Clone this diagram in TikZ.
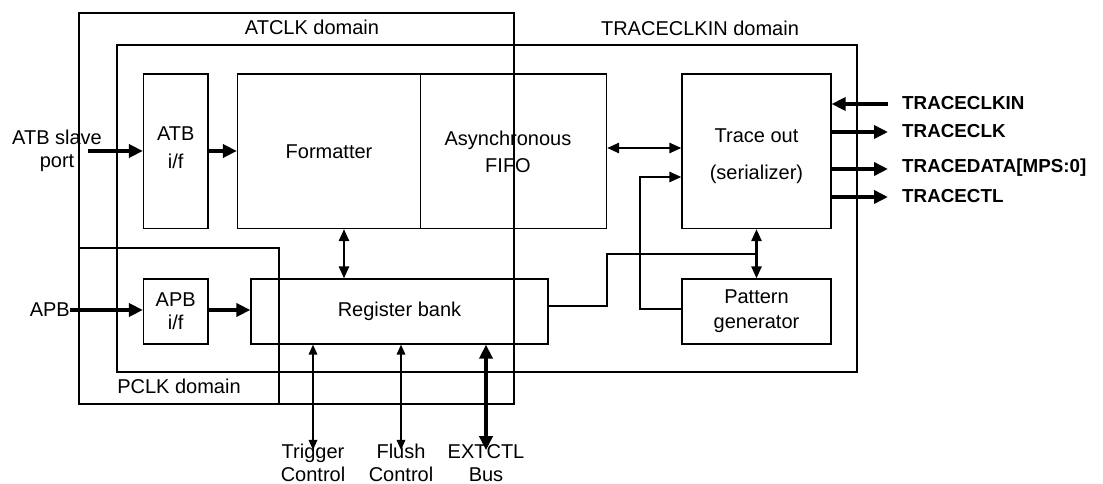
\documentclass[tikz,border=0pt]{standalone}
\usepackage{fontspec}
\setmainfont{Liberation Sans}
\usetikzlibrary{arrows.meta}
\begin{document}
\begin{tikzpicture}[x=1pt,y=-1pt,
  font=\fontsize{20}{23}\selectfont,
  frame/.style={draw, line width=1.2pt, inner sep=0pt, fill=none},
  block/.style={draw, line width=1.2pt, inner sep=0pt, align=center},
  lbl/.style={inner sep=0pt, align=center},
  sig/.style={inner sep=0pt, anchor=west, font=\fontsize{18.8}{21}\selectfont\bfseries},
  bigtip/.tip={Triangle[length=14pt,width=13pt]},
  midtip/.tip={Triangle[length=12pt,width=10pt]},
  smalltip/.tip={Triangle[length=10pt,width=8.5pt]},
  bus/.style={line width=4.5pt, -bigtip},
  bibus/.style={line width=4.5pt, bigtip-bigtip},
  link/.style={line width=2.5pt, -midtip},
  bilink/.style={line width=2.5pt, midtip-midtip},
  wire/.style={line width=2.5pt},
  bithin/.style={line width=1.6pt, smalltip-smalltip},
]
\useasboundingbox (0,0) rectangle (1103,484);

% clock domains
\node[frame, minimum width=435, minimum height=391] (atclk) at (296.5,208.5) {};
\node[frame, minimum width=740, minimum height=327] (tclkin) at (487,208.5) {};
\node[frame, minimum width=200, minimum height=156] (pclk) at (179,326) {};
\node[lbl] (atclklbl) at (312,27) {ATCLK domain};
\node[lbl] (tclkinlbl) at (700,28) {TRACECLKIN domain};
\node[lbl] (pclklbl) at (179,386) {PCLK domain};

% functional blocks
\node[block, minimum width=64.5, minimum height=154.5] (atb) at (175.75,151.25) {};
\node[lbl] (atbtxt) at (175.75,148) {ATB\\[5pt]i/f};
\node[block, minimum width=183, minimum height=154.5] (fmt) at (329,151.25) {Formatter};
\node[block, minimum width=186, minimum height=154.5] (fifo) at (513.5,151.25) {};
\node[lbl] (fifotxt) at (508,151.5) {Asynchronous\\[4pt]FIFO};
\node[block, minimum width=149, minimum height=154.5] (trace) at (756.5,151.25) {};
\node[lbl] (tracetxt) at (756.5,156.5) {Trace out\\[14pt](serializer)};
\node[block, minimum width=149, minimum height=65] (pat) at (756.5,311.5) {Pattern\\[2pt]generator};
\node[block, minimum width=297, minimum height=65] (reg) at (399.5,311.5) {Register bank};
\node[block, minimum width=64.5, minimum height=65] (apb) at (175.75,311.5) {APB\\i/f};

% external ports on the left
\node[lbl] (atbport) at (57,151) {ATB slave\\port};
\coordinate (atbin) at (87.5,151);
\node[lbl, anchor=east] (apbport) at (70,310) {APB};

\draw[bus] (atbin) -- (atbin -| atb.west);
\draw[bus] (atb.east |- 0,151) -- (fmt.west |- 0,151);
\draw[bus] (apbport.east |- 0,310) -- (apb.west |- 0,310);
\draw[bus] (apb.east |- 0,310) -- (reg.west |- 0,310);

% internal connections
\draw[bilink] (fmt.south -| 344,0) -- (reg.north -| 344,0);
\draw[bilink] (fifo.east |- 0,148) -- (trace.west |- 0,148);
\coordinate (jn) at (757.5,254);
\draw[wire] (reg.east |- 0,306) -| (607,254) -- (jn);
\draw[bilink] (trace.south) -- (pat.north);
\draw[link] (pat.west |- 0,309) -| (640,177) -- (trace.west |- 0,177);

% trace port signals
\node[sig] (sclkin) at (902,103) {TRACECLKIN};
\node[sig] (sclk) at (902,131) {TRACECLK};
\node[sig] (sdata) at (902,168) {TRACEDATA[MPS:0]};
\node[sig] (sctl) at (902,196) {TRACECTL};
\coordinate (pclkin) at (888,104);
\coordinate (pclk) at (888,132);
\coordinate (pdata) at (888,169);
\coordinate (pctl) at (888,197);
\draw[bus] (pclkin) -- (pclkin -| trace.east);
\draw[bus] (pclk -| trace.east) -- (pclk);
\draw[bus] (pdata -| trace.east) -- (pdata);
\draw[bus] (pctl -| trace.east) -- (pctl);

% register bank control lines
\node[lbl] (trig) at (313,463) {Trigger\\Control};
\node[lbl] (flush) at (401,463) {Flush\\Control};
\node[lbl] (extctl) at (486,463) {EXTCTL\\Bus};
\draw[bithin] (reg.south -| trig.north) -- ([yshift=-6pt]trig.north);
\draw[bithin] (reg.south -| flush.north) -- ([yshift=-6pt]flush.north);
\draw[bibus] (reg.south -| extctl.north) -- ([yshift=-6pt]extctl.north);
\end{tikzpicture}
\end{document}
